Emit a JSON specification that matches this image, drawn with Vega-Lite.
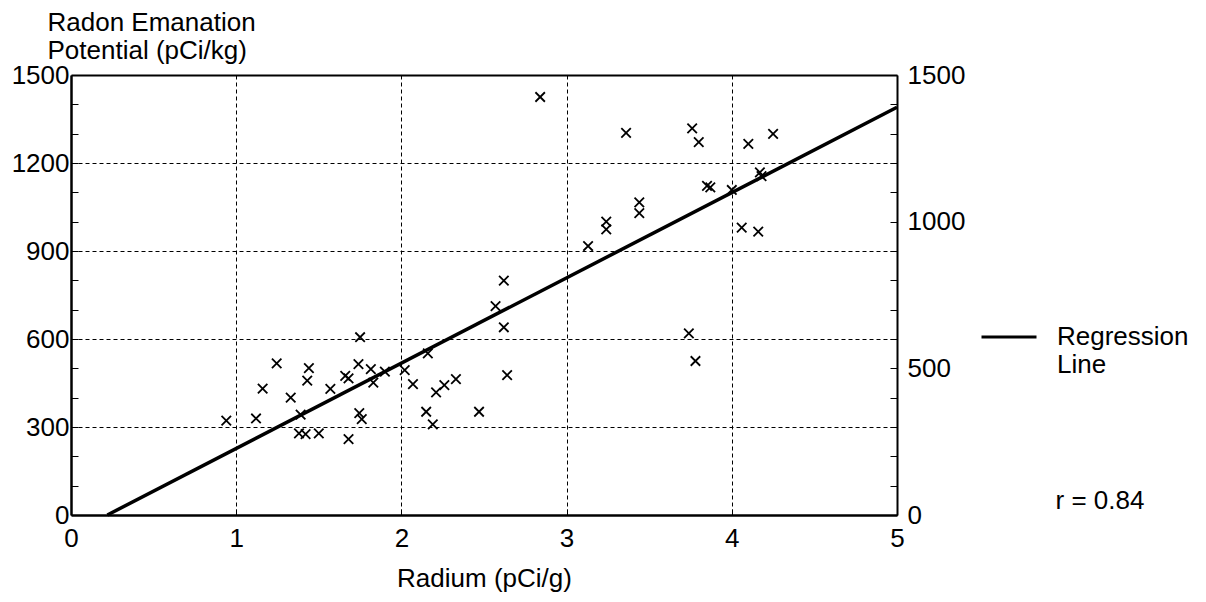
{
  "$schema": "https://vega.github.io/schema/vega-lite/v6.json",
  "width": 826,
  "height": 440,
  "autosize": {"type": "none"},
  "padding": {"left": 71, "top": 75, "right": 309, "bottom": 87},
  "background": "white",
  "config": {
    "view": {"stroke": null},
    "font": "Liberation Sans",
    "axis": {
      "labelFont": "Liberation Sans",
      "titleFont": "Liberation Sans",
      "labelColor": "black",
      "titleColor": "black",
      "domainColor": "black",
      "tickColor": "black",
      "labelFontSize": 26,
      "titleFontSize": 26,
      "titleFontWeight": "normal"
    },
    "legend": {"labelFont": "Liberation Sans", "titleFont": "Liberation Sans"}
  },
  "layer": [
    {
      "data": {
        "values": [
          {"radium": 0.94, "radon": 322},
          {"radium": 1.12, "radon": 329},
          {"radium": 1.16, "radon": 431},
          {"radium": 1.245, "radon": 517},
          {"radium": 1.33, "radon": 400},
          {"radium": 1.44, "radon": 501},
          {"radium": 1.43, "radon": 458},
          {"radium": 1.39, "radon": 342},
          {"radium": 1.38, "radon": 278},
          {"radium": 1.42, "radon": 276},
          {"radium": 1.5, "radon": 278},
          {"radium": 1.57, "radon": 430},
          {"radium": 1.66, "radon": 474},
          {"radium": 1.68, "radon": 466},
          {"radium": 1.68, "radon": 259},
          {"radium": 1.75, "radon": 606},
          {"radium": 1.74, "radon": 514},
          {"radium": 1.745, "radon": 347},
          {"radium": 1.76, "radon": 327},
          {"radium": 1.815, "radon": 497},
          {"radium": 1.83, "radon": 451},
          {"radium": 1.9, "radon": 489},
          {"radium": 2.02, "radon": 494},
          {"radium": 2.07, "radon": 446},
          {"radium": 2.16, "radon": 551},
          {"radium": 2.15, "radon": 352},
          {"radium": 2.19, "radon": 309},
          {"radium": 2.21, "radon": 418},
          {"radium": 2.26, "radon": 443},
          {"radium": 2.33, "radon": 463},
          {"radium": 2.47, "radon": 352},
          {"radium": 2.57, "radon": 712},
          {"radium": 2.62, "radon": 799},
          {"radium": 2.62, "radon": 640},
          {"radium": 2.64, "radon": 477},
          {"radium": 2.84, "radon": 1425},
          {"radium": 3.13, "radon": 917},
          {"radium": 3.24, "radon": 1000},
          {"radium": 3.24, "radon": 974},
          {"radium": 3.36, "radon": 1303},
          {"radium": 3.44, "radon": 1066},
          {"radium": 3.44, "radon": 1029},
          {"radium": 3.74, "radon": 619},
          {"radium": 3.78, "radon": 525},
          {"radium": 3.76, "radon": 1318},
          {"radium": 3.8, "radon": 1271},
          {"radium": 3.85, "radon": 1122},
          {"radium": 3.87, "radon": 1117},
          {"radium": 4.0, "radon": 1108},
          {"radium": 4.06, "radon": 980},
          {"radium": 4.1, "radon": 1265},
          {"radium": 4.16, "radon": 966},
          {"radium": 4.17, "radon": 1168},
          {"radium": 4.18, "radon": 1155},
          {"radium": 4.25, "radon": 1299}
        ]
      },
      "mark": {
        "type": "point",
        "shape": "M-1,-1L1,1M-1,1L1,-1",
        "filled": false,
        "stroke": "black",
        "strokeWidth": 1.8,
        "size": 90,
        "opacity": 1
      },
      "encoding": {
        "x": {
          "field": "radium",
          "type": "quantitative",
          "scale": {"domain": [0, 5], "nice": false},
          "axis": {
            "orient": "bottom",
            "values": [0, 0.25, 0.5, 0.75, 1, 1.25, 1.5, 1.75, 2, 2.25, 2.5, 2.75, 3, 3.25, 3.5, 3.75, 4, 4.25, 4.5, 4.75, 5],
            "format": "d",
            "labelExpr": "datum.value % 1 === 0 ? datum.label : ''",
            "labelOverlap": false,
            "labelFlush": false,
            "tickSize": -6,
            "tickWidth": 1,
            "domainWidth": 2.5,
            "labelPadding": 16,
            "title": "Radium (pCi/g)",
            "titlePadding": 14,
            "grid": true,
            "gridColor": "black",
            "gridDash": [4, 3],
            "gridWidth": 1,
            "gridOpacity": {"condition": {"test": "datum.value % 1 === 0 && datum.value > 0 && datum.value < 5", "value": 1}, "value": 0}
          }
        },
        "y": {
          "field": "radon",
          "type": "quantitative",
          "scale": {"domain": [0, 1500], "nice": false},
          "axis": {
            "orient": "left",
            "values": [0, 100, 200, 300, 400, 500, 600, 700, 800, 900, 1000, 1100, 1200, 1300, 1400, 1500],
            "format": "d",
            "labelExpr": "datum.value % 300 === 0 ? datum.label : ''",
            "labelOverlap": false,
            "labelFlush": false,
            "tickSize": -7,
            "tickWidth": 1,
            "domainWidth": 2.5,
            "labelPadding": 9,
            "title": ["Radon Emanation", "Potential (pCi/kg)"],
            "titleAngle": 0,
            "titleAlign": "left",
            "titleBaseline": "top",
            "titleX": -24,
            "titleY": -66,
            "titleLineHeight": 28,
            "grid": true,
            "gridColor": "black",
            "gridDash": [4, 3],
            "gridWidth": 1,
            "gridOpacity": {"condition": {"test": "datum.value % 300 === 0 && datum.value > 0 && datum.value < 1500", "value": 1}, "value": 0}
          }
        }
      }
    },
    {
      "data": {
        "values": [
          {"radium": 0.22, "radon": 0, "series": "Regression Line"},
          {"radium": 5, "radon": 1390, "series": "Regression Line"}
        ]
      },
      "mark": {"type": "line", "strokeWidth": 3.5},
      "encoding": {
        "x": {
          "field": "radium",
          "type": "quantitative",
          "scale": {"domain": [0, 5], "nice": false},
          "axis": {"orient": "top", "labels": false, "ticks": false, "grid": false, "title": null, "domainWidth": 2}
        },
        "y": {
          "field": "radon",
          "type": "quantitative",
          "scale": {"domain": [0, 1500], "nice": false},
          "axis": {
            "orient": "right",
            "values": [0, 100, 200, 300, 400, 500, 600, 700, 800, 900, 1000, 1100, 1200, 1300, 1400, 1500],
            "format": "d",
            "labelExpr": "datum.value % 500 === 0 ? datum.label : ''",
            "labelOverlap": false,
            "labelFlush": false,
            "tickSize": -7,
            "tickWidth": 1,
            "domainWidth": 2,
            "labelPadding": 17,
            "grid": false,
            "title": "r = 0.84",
            "titleAngle": 0,
            "titleAlign": "left",
            "titleBaseline": "middle",
            "titleX": 158,
            "titleY": 425
          }
        },
        "color": {
          "field": "series",
          "type": "nominal",
          "scale": {"range": ["black"]},
          "legend": {
            "orient": "none",
            "legendX": 909,
            "legendY": 233,
            "padding": 0,
            "title": null,
            "symbolType": "stroke",
            "symbolSize": 3025,
            "symbolStrokeWidth": 3,
            "labelFontSize": 26,
            "labelColor": "black",
            "labelOffset": 19,
            "labelLimit": 300,
            "labelExpr": "['Regression', 'Line']"
          }
        }
      }
    }
  ],
  "resolve": {"axis": {"x": "independent", "y": "independent"}}
}
